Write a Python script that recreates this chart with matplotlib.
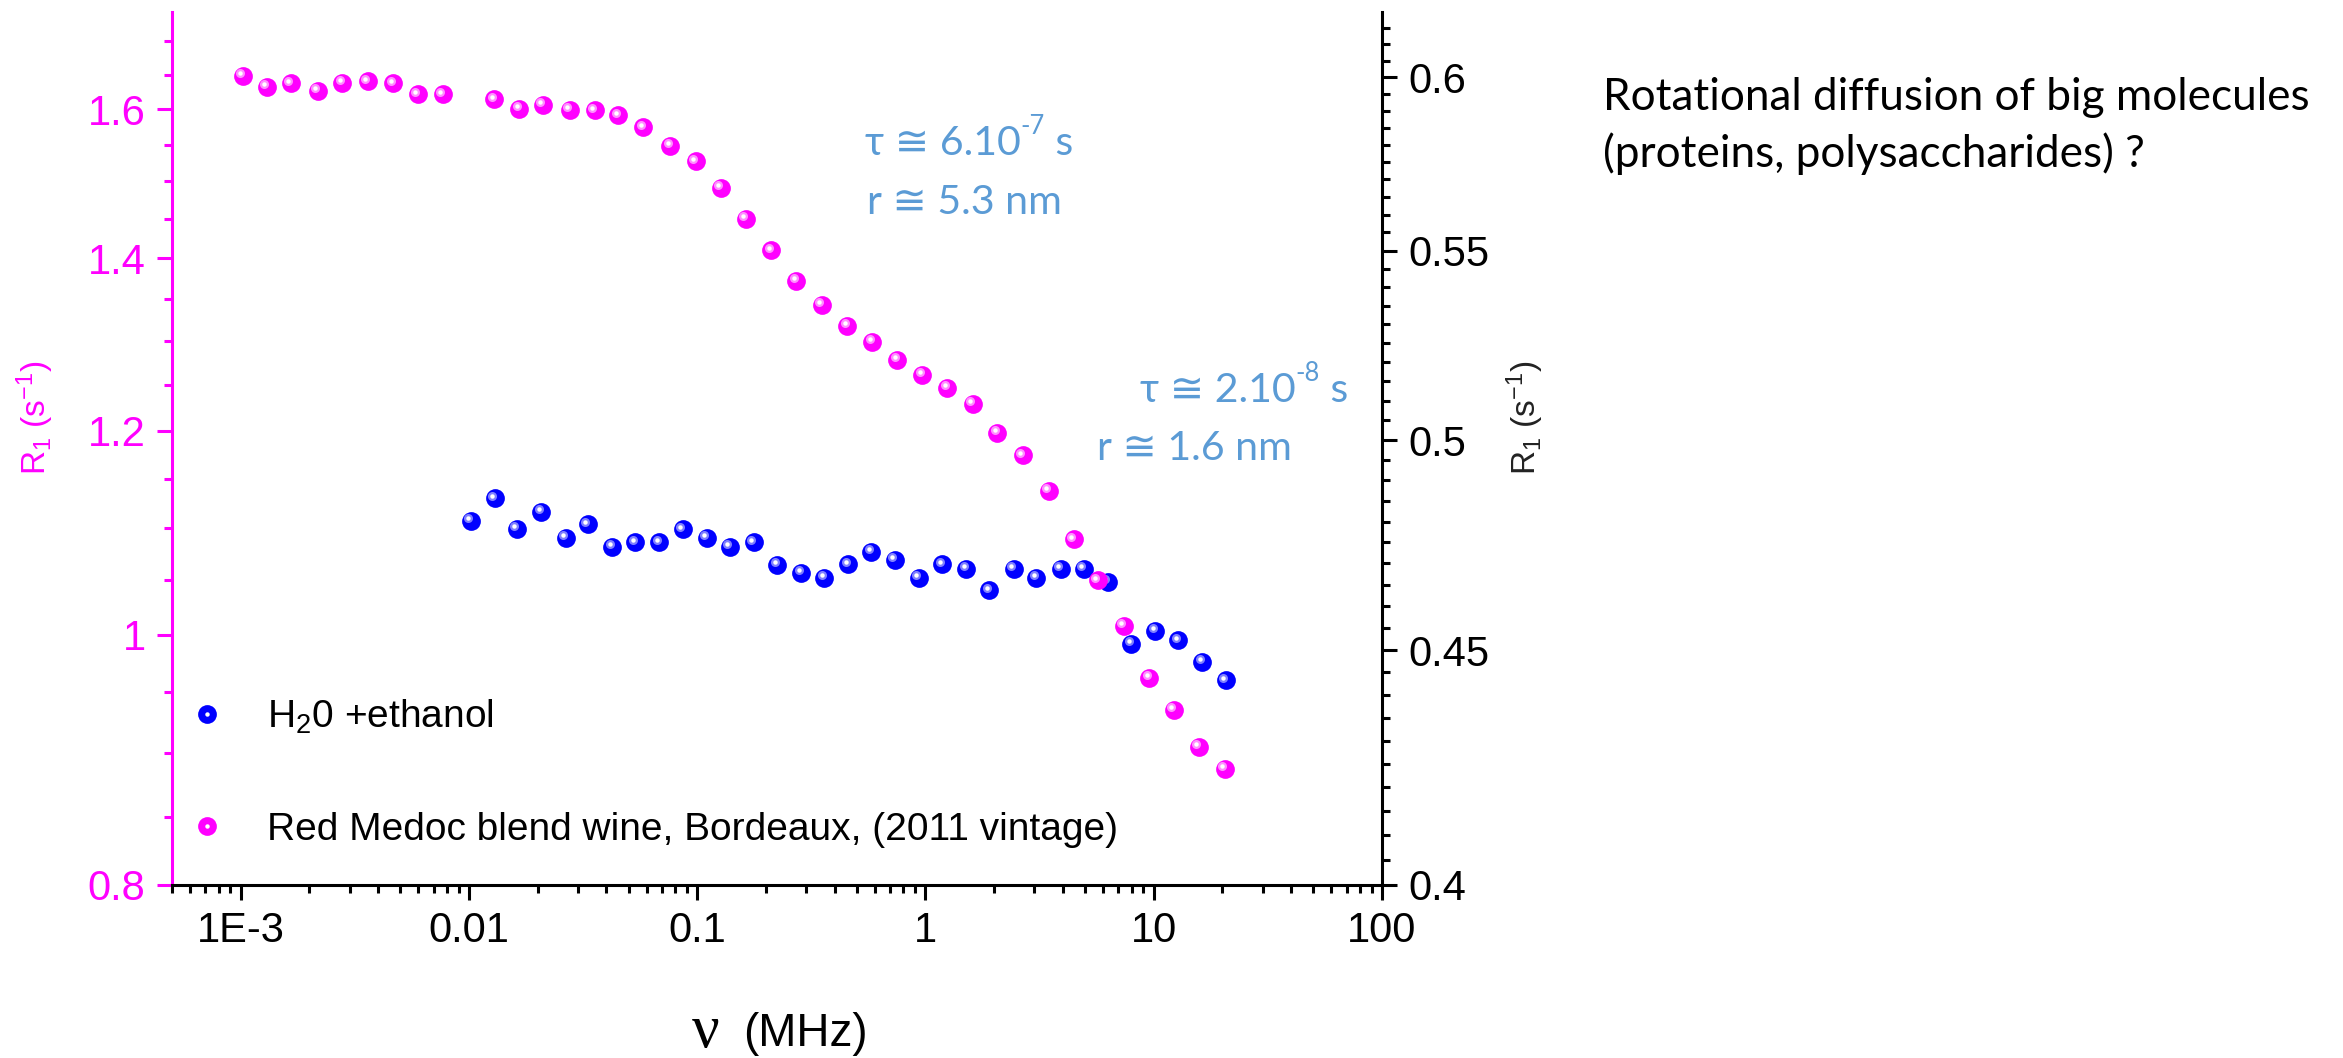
import numpy as np
import matplotlib.pyplot as plt
from matplotlib.ticker import FixedLocator, FixedFormatter, NullFormatter, LogLocator
from matplotlib.transforms import ScaledTranslation
from matplotlib.legend_handler import HandlerTuple

plt.rcParams['mathtext.default'] = 'regular'

# R1 dispersion, red wine (left axis)
freq_wine = [0.00102, 0.0013, 0.00166, 0.00218, 0.00279, 0.00361, 0.00466, 0.00596, 0.00767,
             0.0129, 0.0166, 0.0211, 0.0277, 0.0355, 0.0451, 0.058, 0.0763, 0.0983, 0.127,
             0.163, 0.211, 0.272, 0.351, 0.454, 0.584, 0.751, 0.967, 1.245, 1.607, 2.063,
             2.663, 3.463, 4.459, 5.697, 7.386, 9.574, 12.24, 15.75, 20.42]
r1_wine = [1.648, 1.632, 1.637, 1.626, 1.638, 1.640, 1.637, 1.621, 1.621,
           1.614, 1.600, 1.606, 1.599, 1.598, 1.591, 1.574, 1.548, 1.527, 1.491,
           1.450, 1.410, 1.372, 1.343, 1.318, 1.299, 1.279, 1.262, 1.247, 1.229, 1.198,
           1.174, 1.137, 1.089, 1.050, 1.008, 0.962, 0.935, 0.905, 0.887]

# R1 dispersion, water + ethanol (right axis)
freq_water = [0.0102, 0.0130, 0.0162, 0.0207, 0.0265, 0.0332, 0.0425, 0.0536, 0.0683, 0.0866,
              0.110, 0.139, 0.177, 0.224, 0.286, 0.361, 0.459, 0.580, 0.733, 0.935,
              1.187, 1.508, 1.903, 2.432, 3.059, 3.909, 4.932, 6.284, 7.951, 10.13,
              12.78, 16.29, 20.63]
r1_water = [0.4802, 0.4856, 0.4782, 0.4824, 0.4761, 0.4793, 0.4740, 0.4750, 0.4750, 0.4781,
            0.4760, 0.4739, 0.4750, 0.4697, 0.4677, 0.4666, 0.4698, 0.4728, 0.4708, 0.4666,
            0.4698, 0.4687, 0.4637, 0.4687, 0.4666, 0.4687, 0.4688, 0.4656, 0.4513, 0.4543,
            0.4522, 0.4473, 0.4432]

x_ticks = [1e-3, 0.01, 0.1, 1, 10, 100]
x_labels = ['1E-3', '0.01', '0.1', '1', '10', '100']
left_ticks = [0.8, 1.0, 1.2, 1.4, 1.6]
left_labels = ['0.8', '1', '1.2', '1.4', '1.6']
right_ticks = [0.4, 0.45, 0.5, 0.55, 0.6]
right_labels = ['0.4', '0.45', '0.5', '0.55', '0.6']

MAG = '#ff00ff'
BLUE = '#0000ff'
NOTE = '#5b9bd5'
ARIAL = 'Liberation Sans'
CALIBRI = ['Lato', 'DejaVu Sans']

W, H = 2343, 1058
fig = plt.figure(figsize=(W / 100, H / 100), dpi=100)
ax = fig.add_axes([172 / W, 1 - 884.5 / H, 1210 / W, 872.5 / H])
ax2 = ax.twinx()
ax.set_zorder(ax2.get_zorder() + 1)
ax.patch.set_visible(False)

ax.set_xscale('log')
ax.set_yscale('log')
ax2.set_yscale('log')
ax.set_xlim(5e-4, 100)
ax.set_ylim(0.8, 1.745)
ax2.set_ylim(0.4, 0.62)


def spheres(axis, x, y, color, light):
    # ball-like markers: body + soft highlight + bright spot
    body, = axis.plot(x, y, 'o', ms=13.5, color=color, mec='none', ls='none')
    off = ScaledTranslation(-1.8 / 72, 2.0 / 72, fig.dpi_scale_trans)
    axis.plot(x, y, 'o', ms=6.5, color=light, mec='none', ls='none',
              transform=axis.transData + off)
    spot, = axis.plot(x, y, 'o', ms=3.2, color='white', mec='none', ls='none',
                      transform=axis.transData + off)
    return body, spot


h_water = spheres(ax2, freq_water, r1_water, BLUE, '#8080ff')
h_wine = spheres(ax, freq_wine, r1_wine, MAG, '#ff90ff')

# x axis
ax.xaxis.set_major_locator(FixedLocator(x_ticks))
ax.xaxis.set_major_formatter(FixedFormatter(x_labels))
ax.xaxis.set_minor_locator(LogLocator(base=10, subs=np.arange(2, 10), numticks=20))
ax.xaxis.set_minor_formatter(NullFormatter())

# left axis
ax.yaxis.set_major_locator(FixedLocator(left_ticks))
ax.yaxis.set_major_formatter(FixedFormatter(left_labels))
ax.yaxis.set_minor_locator(FixedLocator(np.arange(0.85, 1.75, 0.05)))
ax.yaxis.set_minor_formatter(NullFormatter())

# right axis
ax2.yaxis.set_major_locator(FixedLocator(right_ticks))
ax2.yaxis.set_major_formatter(FixedFormatter(right_labels))
ax2.yaxis.set_minor_locator(FixedLocator(np.arange(0.405, 0.62, 0.005)))
ax2.yaxis.set_minor_formatter(NullFormatter())

for a in (ax, ax2):
    a.spines['top'].set_visible(False)
ax.spines['right'].set_visible(False)
ax2.spines['left'].set_visible(False)
ax2.spines['bottom'].set_visible(False)
ax.spines['left'].set_color(MAG)
ax.spines['left'].set_linewidth(2.2)
ax.spines['bottom'].set_linewidth(2.2)
ax2.spines['right'].set_linewidth(2.2)

ax.tick_params(axis='x', which='major', direction='out', length=11, width=2.2,
               labelsize=30, pad=8)
ax.tick_params(axis='x', which='minor', direction='out', length=6, width=2.2)
ax.tick_params(axis='y', which='major', direction='out', length=11, width=2.2,
               colors=MAG, labelsize=30, pad=8)
ax.tick_params(axis='y', which='minor', direction='out', length=6, width=2.2, colors=MAG)
ax2.tick_params(axis='y', which='major', direction='out', length=11, width=2.2,
                labelsize=30, pad=8)
ax2.tick_params(axis='y', which='minor', direction='out', length=6, width=2.2)
for lab in ax.get_xticklabels() + ax.get_yticklabels() + ax2.get_yticklabels():
    lab.set_family(ARIAL)

ax.set_ylabel(r'R$_1$ (s$^{-1}$)', color=MAG, fontsize=24, family=ARIAL)
ax.yaxis.set_label_coords(-0.096, 0.535)
ax2.set_ylabel(r'R$_1$ (s$^{-1}$)', color='#222222', fontsize=24, family=ARIAL, rotation=90)
ax2.yaxis.set_label_coords(1.101, 0.535)

# x label: serif nu + sans unit, kept inside the bottom edge
fig.text(706 / W, 1 - 1047 / H, 'ν', family='Liberation Serif', fontsize=44,
         ha='center', va='baseline')
fig.text(743 / W, 1 - 1046 / H, '(MHz)', family=ARIAL, fontsize=33,
         ha='left', va='baseline')

leg = ax.legend([h_water, h_wine],
                [r'H$_2$0 +ethanol', 'Red Medoc blend wine, Bordeaux, (2011 vintage)'],
                handler_map={tuple: HandlerTuple(ndivide=1)},
                loc='upper left', bbox_to_anchor=(0.0, 0.232), frameon=False,
                prop={'family': ARIAL, 'size': 28}, labelspacing=1.95,
                handlelength=1.0, handletextpad=1.05, borderaxespad=0)


def put(x, y, s, size, color, **kw):
    return fig.text(x / W, 1 - y / H, s, fontsize=size, color=color, family=CALIBRI,
                    va='center', ha='left', **kw)


def fit(t, width_px):
    fig.canvas.draw()
    w = t.get_window_extent().width
    t.set_fontsize(t.get_fontsize() * width_px / w)
    return t.get_fontsize()


def tau_note(x, y1, y2, base, expo, r_text, r_x, r_w):
    r = put(r_x, y2, r_text, 30, NOTE)
    size = fit(r, r_w)
    t = put(x, y1, base, size, NOTE)
    sup = ax.annotate(expo, xy=(1.0, 0.95), xycoords=t, fontsize=size * 0.62, color=NOTE,
                      family=CALIBRI, ha='left', va='center')
    # the unit sits back on the baseline of the main text
    ax.annotate(' s', xy=(1.0, 0.0), xycoords=(sup, t), fontsize=size, color=NOTE,
                family=CALIBRI, ha='left', va='bottom')


tau_note(865, 143, 203, 'τ ≅ 6.10', '-7', 'r ≅ 5.3 nm', 867, 195)
tau_note(1140, 390, 448, 'τ ≅ 2.10', '-8', 'r ≅ 1.6 nm', 1097, 195)

q1 = put(1603, 97, 'Rotational diffusion of big molecules', 28, 'black')
sz = fit(q1, 706)
put(1603, 154, '(proteins, polysaccharides) ?', sz, 'black')

fig.savefig('out.png', dpi=100)
